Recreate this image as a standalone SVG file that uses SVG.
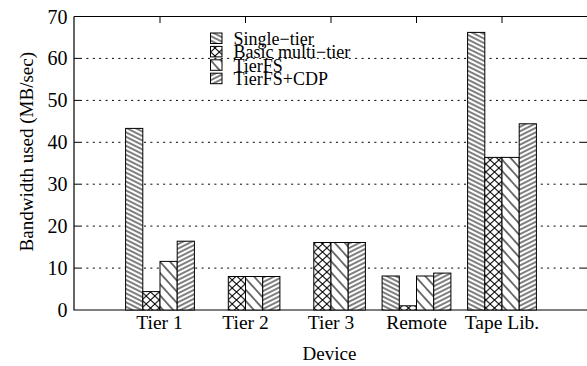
<svg xmlns="http://www.w3.org/2000/svg" width="587" height="366" viewBox="0 0 587 366">
<style>
text{font-family:"Liberation Serif","Times New Roman",serif;fill:#000}
.tick{font-size:20px;text-anchor:end}
.cat{font-size:19.5px;text-anchor:middle}
.leg{font-size:18px}
.title{font-size:19px;text-anchor:middle}
.grid{stroke:#000;stroke-width:1;stroke-dasharray:2 4.4;fill:none}
.axis{stroke:#000;stroke-width:1.2;fill:none}
.tk{stroke:#000;stroke-width:1;fill:none}
.bar{stroke:#000;stroke-width:1}
.s1{fill:url(#p1)}
.s2{fill:url(#p2)}
.s3{fill:url(#p3)}
.s4{fill:url(#p4)}
</style>
<defs>
<pattern id="p1" patternUnits="userSpaceOnUse" width="10" height="4" patternTransform="rotate(26.57)">
<rect width="10" height="4" fill="#fff"/>
<line x1="0" y1="2" x2="10" y2="2" stroke="#000" stroke-width="1"/>
</pattern>
<pattern id="p4" patternUnits="userSpaceOnUse" width="10" height="4" patternTransform="rotate(-26.57)">
<rect width="10" height="4" fill="#fff"/>
<line x1="0" y1="2" x2="10" y2="2" stroke="#000" stroke-width="1"/>
</pattern>
<pattern id="p3" patternUnits="userSpaceOnUse" width="10" height="7.5" patternTransform="rotate(48)">
<rect width="10" height="7.5" fill="#fff"/>
<line x1="0" y1="3.75" x2="10" y2="3.75" stroke="#000" stroke-width="1.1"/>
</pattern>
<pattern id="p2" patternUnits="userSpaceOnUse" width="8.6" height="8">
<rect width="8.6" height="8" fill="#fff"/>
<path d="M0,0 L8.6,8 M0,8 L8.6,0" stroke="#000" stroke-width="1"/>
</pattern>
</defs>

<g id="grid">
<line class="grid" x1="80" y1="268.1" x2="580" y2="268.1"/>
<line class="grid" x1="80" y1="226.1" x2="580" y2="226.1"/>
<line class="grid" x1="80" y1="184.2" x2="580" y2="184.2"/>
<line class="grid" x1="80" y1="142.3" x2="580" y2="142.3"/>
<line class="grid" x1="80" y1="100.4" x2="580" y2="100.4"/>
<line class="grid" x1="80" y1="58.4" x2="580" y2="58.4"/>
</g>

<g id="axes">
<path class="axis" d="M74,16.5 L74,310 L587,310 M74,16.5 L587,16.5"/>
<path class="tk" d="M74,268.1h6M74,226.1h6M74,184.2h6M74,142.3h6M74,100.4h6M74,58.4h6
M587,268.1h-7M587,226.1h-7M587,184.2h-7M587,142.3h-7M587,100.4h-7M587,58.4h-7
M160,16.5v6.5M245.5,16.5v6.5M331,16.5v6.5M416.5,16.5v6.5M502,16.5v6.5
M160,310v-6.5M245.5,310v-6.5M331,310v-6.5M416.5,310v-6.5M502,310v-6.5"/>
</g>

<g id="ytick-labels">
<text class="tick" x="67.5" y="317">0</text>
<text class="tick" x="67.5" y="275.1">10</text>
<text class="tick" x="67.5" y="233.1">20</text>
<text class="tick" x="67.5" y="191.2">30</text>
<text class="tick" x="67.5" y="149.3">40</text>
<text class="tick" x="67.5" y="107.4">50</text>
<text class="tick" x="67.5" y="65.4">60</text>
<text class="tick" x="67.5" y="23.5">70</text>
</g>

<g id="bars-tier1">
<rect class="bar s1" x="125.6" y="128.4" width="17.2" height="181.6"/>
<rect class="bar s2" x="142.8" y="291.6" width="17.2" height="18.4"/>
<rect class="bar s3" x="160" y="261.4" width="17.2" height="48.6"/>
<rect class="bar s4" x="177.2" y="241.2" width="17.2" height="68.8"/>
</g>
<g id="bars-tier2">
<rect class="bar s2" x="228.3" y="276.5" width="17.2" height="33.5"/>
<rect class="bar s3" x="245.5" y="276.5" width="17.2" height="33.5"/>
<rect class="bar s4" x="262.7" y="276.5" width="17.2" height="33.5"/>
</g>
<g id="bars-tier3">
<rect class="bar s2" x="313.8" y="242.5" width="17.2" height="67.5"/>
<rect class="bar s3" x="331" y="242.5" width="17.2" height="67.5"/>
<rect class="bar s4" x="348.2" y="242.5" width="17.2" height="67.5"/>
</g>
<g id="bars-remote">
<rect class="bar s1" x="382.1" y="276" width="17.2" height="34"/>
<rect class="bar s2" x="399.3" y="305.8" width="17.2" height="4.2"/>
<rect class="bar s3" x="416.5" y="276" width="17.2" height="34"/>
<rect class="bar s4" x="433.7" y="273.1" width="17.2" height="36.9"/>
</g>
<g id="bars-tape">
<rect class="bar s1" x="467.6" y="32.4" width="17.2" height="277.6"/>
<rect class="bar s2" x="484.8" y="157.4" width="17.2" height="152.6"/>
<rect class="bar s3" x="502" y="157.4" width="17.2" height="152.6"/>
<rect class="bar s4" x="519.2" y="123.8" width="17.2" height="186.2"/>
</g>

<g id="xtick-labels">
<text class="cat" x="159.5" y="329">Tier 1</text>
<text class="cat" x="245.5" y="329">Tier 2</text>
<text class="cat" x="331" y="329">Tier 3</text>
<text class="cat" x="416.5" y="329">Remote</text>
<text class="cat" x="502" y="329">Tape Lib.</text>
</g>

<g id="legend">
<rect class="bar s1" x="210.5" y="33" width="11.5" height="10.5"/>
<text class="leg" x="233.5" y="45">Single−tier</text>
<rect class="bar s2" x="210.5" y="46.4" width="11.5" height="10.5"/>
<text class="leg" x="233.5" y="58.4">Basic multi−tier</text>
<rect class="bar s3" x="210.5" y="59.8" width="11.5" height="10.5"/>
<text class="leg" x="233.5" y="71.8">TierFS</text>
<rect class="bar s4" x="210.5" y="73.2" width="11.5" height="10.5"/>
<text class="leg" x="233.5" y="85.2">TierFS+CDP</text>
</g>

<g id="axis-titles">
<text class="title" x="329.5" y="360">Device</text>
<text class="title" transform="translate(33,151.7) rotate(-90)">Bandwidth used (MB/sec)</text>
</g>
</svg>
